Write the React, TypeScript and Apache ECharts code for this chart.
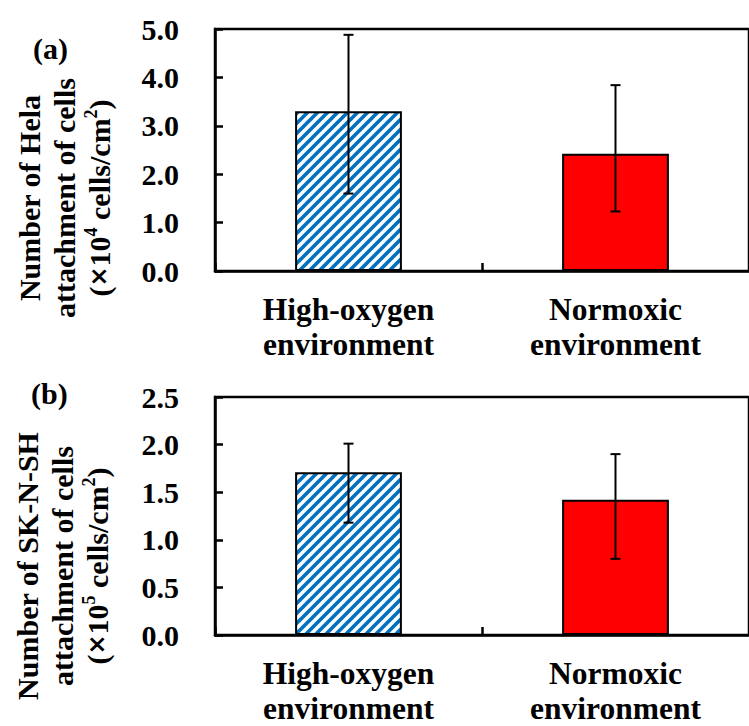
import React, { useEffect, useRef } from "react";
import * as echarts from "echarts";

const categories = ["High-oxygen\nenvironment", "Normoxic\nenvironment"];

// Panel (a) Hela (×10^4 cells/cm²)
const helaMeans = [3.3, 2.42];
const helaErrLow = [1.6, 1.23];
const helaErrHigh = [4.88, 3.84];

// Panel (b) SK-N-SH (×10^5 cells/cm²)
const skMeans = [1.71, 1.42];
const skErrLow = [1.18, 0.8];
const skErrHigh = [2.01, 1.9];

const FONT = "'Liberation Serif', 'Times New Roman', serif";
const BLUE = "#0070C0";
const RED = "#FF0000";

function makeHatch(): HTMLCanvasElement {
  const s = 10;
  const c = document.createElement("canvas");
  c.width = s;
  c.height = s;
  const ctx = c.getContext("2d")!;
  ctx.fillStyle = "#ffffff";
  ctx.fillRect(0, 0, s, s);
  ctx.strokeStyle = BLUE;
  ctx.lineWidth = 3.6;
  ctx.beginPath();
  ctx.moveTo(-2, s + 2);
  ctx.lineTo(s + 2, -2);
  ctx.moveTo(-4, 4);
  ctx.lineTo(4, -4);
  ctx.moveTo(s - 4, s + 4);
  ctx.lineTo(s + 4, s - 4);
  ctx.stroke();
  return c;
}

export default function App() {
  const ref = useRef<HTMLDivElement>(null);
  useEffect(() => {
    if (!ref.current) return;
    const chart = echarts.init(ref.current, null, { renderer: "svg" });
    const hatch = makeHatch();

    const axisText = { fontFamily: FONT, fontWeight: "bold" as const, fontSize: 30, color: "#000" };

    const mkX = (gridIndex: number) => ({
      type: "category" as const,
      gridIndex,
      data: categories,
      boundaryGap: true,
      axisLine: { show: true, lineStyle: { color: "#000", width: 2.5 } },
      axisTick: { show: true, inside: true, length: 8, lineStyle: { color: "#000", width: 2.5 } },
      axisLabel: { show: true, interval: 0, margin: 21, lineHeight: 35, ...axisText, fontSize: 31.5 },
      splitLine: { show: false },
    });

    const mkY = (gridIndex: number, max: number, interval: number) => ({
      type: "value" as const,
      gridIndex,
      min: 0,
      max,
      interval,
      axisLine: { show: true, lineStyle: { color: "#000", width: 2.5 } },
      axisTick: { show: true, inside: true, length: 8, lineStyle: { color: "#000", width: 2.5 } },
      axisLabel: { formatter: (v: number) => v.toFixed(1), margin: 36, ...axisText },
      splitLine: { show: false },
    });

    const barData = (means: number[]) =>
      means.map((m, i) => ({
        value: m,
        itemStyle: {
          color: i === 0 ? { image: hatch, repeat: "repeat" } : RED,
          borderColor: "#000",
          borderWidth: 2,
        },
      }));

    const errSeries = (idx: number, lo: number[], hi: number[]) => ({
      type: "custom" as const,
      xAxisIndex: idx,
      yAxisIndex: idx,
      data: lo.map((l, i) => [i, l, hi[i]]),
      z: 10,
      renderItem: (_params: any, api: any) => {
        const x = api.value(0);
        const pLo = api.coord([x, api.value(1)]);
        const pHi = api.coord([x, api.value(2)]);
        const hw = 5;
        const style = { stroke: "#000", lineWidth: 2 };
        return {
          type: "group",
          children: [
            { type: "line", shape: { x1: pLo[0], y1: pLo[1], x2: pHi[0], y2: pHi[1] }, style },
            { type: "line", shape: { x1: pHi[0] - hw, y1: pHi[1], x2: pHi[0] + hw, y2: pHi[1] }, style },
            { type: "line", shape: { x1: pLo[0] - hw, y1: pLo[1], x2: pLo[0] + hw, y2: pLo[1] }, style },
          ],
        };
      },
    });

    const nameRich = {
      t: { fontFamily: FONT, fontWeight: "bold", fontSize: 30, lineHeight: 35, color: "#000" },
      x: { fontFamily: "'DejaVu Sans', sans-serif", fontWeight: "bold", fontSize: 24, lineHeight: 35, color: "#000" },
      sup: { fontFamily: FONT, fontWeight: "bold", fontSize: 18, lineHeight: 35, verticalAlign: "top", color: "#000" },
    };

    chart.setOption({
      animation: false,
      backgroundColor: "#fff",
      grid: [
        { left: 215, top: 29, width: 544, height: 242, show: true, borderColor: "#000", borderWidth: 2.5 },
        { left: 215, top: 397, width: 544, height: 240, show: true, borderColor: "#000", borderWidth: 2.5 },
      ],
      xAxis: [mkX(0), mkX(1)],
      yAxis: [mkY(0, 5, 1), mkY(1, 2.5, 0.5)],
      series: [
        { type: "bar", xAxisIndex: 0, yAxisIndex: 0, barWidth: "40%", data: barData(helaMeans) },
        errSeries(0, helaErrLow, helaErrHigh),
        { type: "bar", xAxisIndex: 1, yAxisIndex: 1, barWidth: "40%", data: barData(skMeans) },
        errSeries(1, skErrLow, skErrHigh),
      ],
      graphic: [
        { type: "text", left: 33, top: 33, style: { text: "(a)", font: `bold 30px ${FONT}`, fill: "#000" } },
        { type: "text", left: 31, top: 378, style: { text: "(b)", font: `bold 30px ${FONT}`, fill: "#000" } },
        {
          type: "text",
          x: 64,
          y: 198,
          rotation: Math.PI / 2,
          style: {
            text: "{t|Number of Hela}\n{t|attachment of cells}\n{t|(}{x|×}{t|10}{sup|4}{t| cells/cm}{sup|2}{t|)}",
            rich: nameRich,
            align: "center",
            verticalAlign: "middle",
          },
        },
        {
          type: "text",
          x: 62,
          y: 566,
          rotation: Math.PI / 2,
          style: {
            text: "{t|Number of SK-N-SH}\n{t|attachment of cells}\n{t|(}{x|×}{t|10}{sup|5}{t| cells/cm}{sup|2}{t|)}",
            rich: nameRich,
            align: "center",
            verticalAlign: "middle",
          },
        },
      ],
    });
    return () => chart.dispose();
  }, []);
  return <div ref={ref} style={{ position: "fixed", left: 0, top: 0, width: 749, height: 726 }} />;
}
